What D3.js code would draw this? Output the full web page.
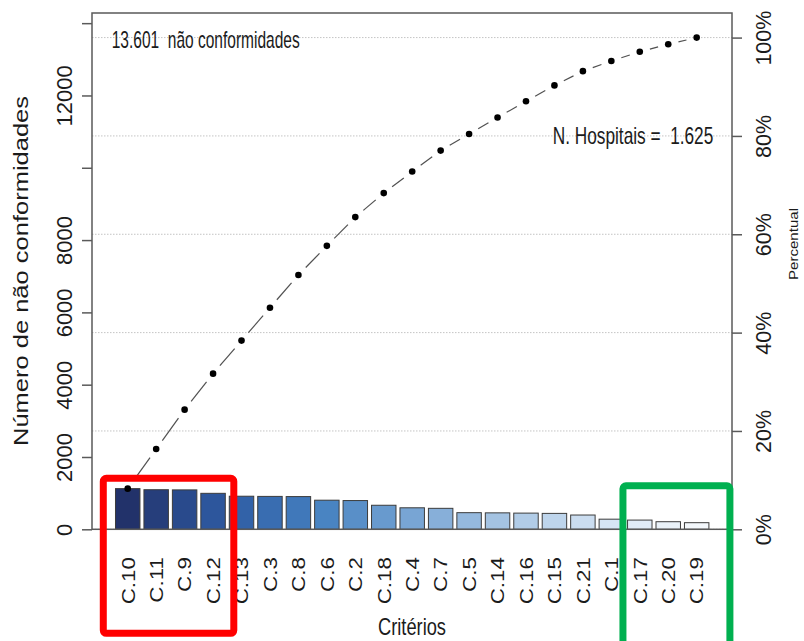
<!DOCTYPE html>
<html>
<head>
<meta charset="utf-8">
<script src="https://cdn.jsdelivr.net/npm/d3@7"></script>
<style>
  html, body { margin: 0; padding: 0; background: #fff; }
  svg { display: block; }
  text { font-family: "Liberation Sans", Arial, Helvetica, sans-serif; fill: #1b1b1b; }
</style>
</head>
<body>
<svg id="chart" width="804" height="641"></svg>
<script>
// Pareto data: non-conformities per criterion, sorted descending
const categories = ["C.10","C.11","C.9","C.12","C.13","C.3","C.8","C.6","C.2","C.18","C.4",
                    "C.7","C.5","C.14","C.16","C.15","C.21","C.1","C.17","C.20","C.19"];
const counts = [1125,1095,1090,995,915,910,905,805,795,665,595,
                580,460,455,448,440,395,280,255,210,183];

// Axis ticks
const leftTicks = [0,2000,4000,6000,8000,10000,12000,14000];
const leftTickLabels = ["0","2000","4000","6000","8000","","12000",""];
const pctTicks = [0,20,40,60,80,100];

// Annotation values
const nHospitais = 1625;

// Highlighted groups
const groupTop = ["C.10","C.11","C.9","C.12"];
const groupBottom = ["C.17","C.20","C.19"];

// ---------------------------------------------------------------
const svg = d3.select("#chart");
const plot = { left: 92, right: 732, top: 13, bottom: 529.3 };

const ptBR = d3.formatLocale({ decimal: ",", thousands: ".", grouping: [3], currency: ["R$", ""] });
const fmtInt = ptBR.format(",d");

const total = d3.sum(counts);
const cumulative = Array.from(d3.cumsum(counts));
const cumPct = cumulative.map(c => c / total * 100);

const x = d3.scaleBand()
  .domain(categories)
  .range([113.5, 710.9])
  .paddingInner(0.14)
  .paddingOuter(0.07);

const y = d3.scaleLinear().domain([0, total * 1.05]).range([plot.bottom, plot.top]);
const yPct = d3.scaleLinear().domain([0, 105]).range([plot.bottom, plot.top]);

const barColor = d3.piecewise(d3.interpolateRgb,
  ["#22326a", "#2e5aa2", "#4480c0", "#78a5d4", "#a9c6e4", "#d3e3f3", "#f4f8fc"]);

// Dotted gridlines at percentage ticks
svg.append("g")
  .selectAll("line")
  .data(pctTicks)
  .join("line")
  .attr("x1", plot.left).attr("x2", plot.right)
  .attr("y1", d => yPct(d)).attr("y2", d => yPct(d))
  .attr("stroke", "#c4c4c4")
  .attr("stroke-width", 1)
  .attr("stroke-dasharray", "1.5,1.5");

// Bars
svg.append("g")
  .selectAll("rect")
  .data(categories)
  .join("rect")
  .attr("x", d => x(d))
  .attr("y", (d, i) => y(counts[i]))
  .attr("width", x.bandwidth())
  .attr("height", (d, i) => y(0) - y(counts[i]))
  .attr("fill", (d, i) => barColor(i / (categories.length - 1)))
  .attr("stroke", "#3c3c3c")
  .attr("stroke-width", 1);

// Cumulative curve: segments with gaps around the points
const pts = categories.map((c, i) => [x(c) + x.bandwidth() / 2, yPct(cumPct[i])]);
const gap = 10.5;
const segs = d3.pairs(pts).map(([a, b]) => {
  const dx = b[0] - a[0], dy = b[1] - a[1];
  const len = Math.hypot(dx, dy);
  const ux = dx / len, uy = dy / len;
  return [[a[0] + ux * gap, a[1] + uy * gap], [b[0] - ux * gap, b[1] - uy * gap]];
});
const lineGen = d3.line();
svg.append("g")
  .selectAll("path")
  .data(segs)
  .join("path")
  .attr("d", d => lineGen(d))
  .attr("fill", "none")
  .attr("stroke", "#505050")
  .attr("stroke-width", 1.2);

svg.append("g")
  .selectAll("circle")
  .data(pts)
  .join("circle")
  .attr("cx", d => d[0])
  .attr("cy", d => d[1])
  .attr("r", 3.3)
  .attr("fill", "#000");

// Plot frame
svg.append("rect")
  .attr("x", plot.left).attr("y", plot.top)
  .attr("width", plot.right - plot.left)
  .attr("height", plot.bottom - plot.top)
  .attr("fill", "none")
  .attr("stroke", "#5a5a5a")
  .attr("stroke-width", 1.5);

// Left axis
const gLeft = svg.append("g")
  .attr("transform", `translate(${plot.left},0)`)
  .call(d3.axisLeft(y).tickValues(leftTicks).tickSize(10).tickSizeOuter(0)
    .tickFormat((d, i) => leftTickLabels[i]));
gLeft.select(".domain").remove();
gLeft.selectAll(".tick line").attr("stroke", "#5a5a5a").attr("stroke-width", 1.5);
gLeft.selectAll(".tick text")
  .attr("x", null).attr("dy", null)
  .attr("transform", "translate(-20,0) rotate(-90)")
  .attr("text-anchor", "middle")
  .attr("font-size", 22)
  .attr("fill", "#1b1b1b");

// Right axis (percent)
const gRight = svg.append("g")
  .attr("transform", `translate(${plot.right},0)`)
  .call(d3.axisRight(yPct).tickValues(pctTicks).tickSize(10).tickSizeOuter(0)
    .tickFormat(d => d + "%"));
gRight.select(".domain").remove();
gRight.selectAll(".tick line").attr("stroke", "#5a5a5a").attr("stroke-width", 1.5);
gRight.selectAll(".tick text")
  .attr("x", null).attr("dy", null)
  .attr("transform", "translate(39,0) rotate(-90)")
  .attr("text-anchor", "middle")
  .attr("font-size", 21.5)
  .attr("fill", "#1b1b1b");

// Category labels
const gBottom = svg.append("g")
  .attr("transform", `translate(0,${plot.bottom})`)
  .call(d3.axisBottom(x).tickSize(0).tickSizeOuter(0));
gBottom.select(".domain").remove();
gBottom.selectAll(".tick text")
  .attr("y", null).attr("dy", null)
  .attr("transform", "translate(6.8,27.7) rotate(-90) scale(1.18,1)")
  .attr("text-anchor", "end")
  .attr("font-size", 19)
  .attr("fill", "#1b1b1b");

// Axis titles
svg.append("text")
  .attr("transform", "translate(28,271) rotate(-90)")
  .attr("text-anchor", "middle")
  .attr("font-size", 21)
  .attr("textLength", 350)
  .attr("lengthAdjust", "spacingAndGlyphs")
  .text("Número de não conformidades");

svg.append("text")
  .attr("transform", "translate(798,244) rotate(-90)")
  .attr("text-anchor", "middle")
  .attr("font-size", 13)
  .attr("textLength", 72)
  .attr("lengthAdjust", "spacingAndGlyphs")
  .text("Percentual");

svg.append("text")
  .attr("x", 412).attr("y", 635)
  .attr("text-anchor", "middle")
  .attr("font-size", 24)
  .attr("textLength", 68)
  .attr("lengthAdjust", "spacingAndGlyphs")
  .text("Critérios");

// In-plot annotations
svg.append("text")
  .attr("x", 111.7).attr("y", 48.3)
  .attr("font-size", 24)
  .attr("textLength", 188)
  .attr("lengthAdjust", "spacingAndGlyphs")
  .style("white-space", "pre")
  .text(`${fmtInt(total)}  não conformidades`);

svg.append("text")
  .attr("x", 552.7).attr("y", 143.5)
  .attr("font-size", 24)
  .attr("textLength", 160.6)
  .attr("lengthAdjust", "spacingAndGlyphs")
  .style("white-space", "pre")
  .text(`N. Hospitais =  ${fmtInt(nHospitais)}`);

// Highlight frames around the first and last groups of criteria
function groupFrame(names, padLeft, padRight, top, bottom, color) {
  const x0 = x(names[0]) - padLeft;
  const x1 = x(names[names.length - 1]) + x.bandwidth() + padRight;
  svg.append("rect")
    .attr("x", x0).attr("y", top)
    .attr("width", x1 - x0).attr("height", bottom - top)
    .attr("rx", 3)
    .attr("fill", "none")
    .attr("stroke", color)
    .attr("stroke-width", 7);
}
groupFrame(groupTop, 12.2, 8.5, 478.3, 633.3, "#ff0000");
groupFrame(groupBottom, 4.6, 21, 485.8, 646, "#00b050");
</script>
</body>
</html>
